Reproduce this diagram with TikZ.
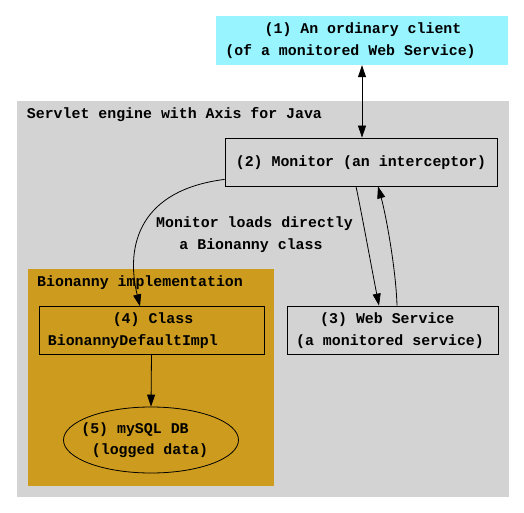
\documentclass[tikz,border=0pt]{standalone}
\usepackage{fontspec}
\setmainfont{Liberation Mono}
\usetikzlibrary{arrows.meta,shapes.geometric}
\definecolor{cadetblueone}{HTML}{98F5FF}
\definecolor{lgray}{HTML}{D3D3D3}
\definecolor{goldthree}{HTML}{CD9B1D}
\tikzset{
  box/.style={draw=black, line width=0.8pt, rectangle, inner sep=0pt},
  txt/.style={inner sep=0pt, anchor=base, font=\fontsize{14.9}{18}\selectfont\bfseries},
  txtl/.style={txt, anchor=base west},
  tip/.style={},
  conn/.style={draw=black, line width=0.8pt, -{Triangle[length=12pt,width=8pt]}},
  conn2/.style={conn, {Triangle[length=12pt,width=8pt]}-{Triangle[length=12pt,width=8pt]}}
}
\begin{document}
\begin{tikzpicture}[x=1pt,y=-1pt]
\useasboundingbox (0,0) rectangle (524,513);
% clusters
\node[fill=lgray, inner sep=0pt, minimum width=492pt, minimum height=396pt] (servlet) at (263,299) {};
\node[fill=goldthree, inner sep=0pt, minimum width=246pt, minimum height=217pt] (bionanny) at (151,377.5) {};
% nodes
\node[fill=cadetblueone, inner sep=0pt, minimum width=292pt, minimum height=49pt] (client) at (362,40.5) {};
\node[box, minimum width=272pt, minimum height=48pt] (monitor) at (361,162) {};
\node[box, minimum width=211pt, minimum height=48pt] (ws) at (392.5,330) {};
\node[box, minimum width=225pt, minimum height=47.5pt] (class) at (151.5,330.5) {};
\node[draw=black, line width=0.8pt, ellipse, inner sep=0pt, minimum width=175pt, minimum height=66pt] (db) at (151,440) {};
% texts
\node[txt] (t1a) at (363,33.8) {(1) An ordinary client};
\node[txt] (t1b) at (350.5,55.2) {(of a monitored Web Service)};
\node[txtl] (tsv) at (26.7,118.5) {Servlet engine with Axis for Java};
\node[txt] (t2) at (361,166.5) {(2) Monitor (an interceptor)};
\node[txt] (tea) at (254.5,227.5) {Monitor loads directly};
\node[txt] (teb) at (251,249.5) {a Bionanny class};
\node[txtl] (tbi) at (37,286.5) {Bionanny implementation};
\node[txt] (t4a) at (153,323.5) {(4) Class};
\node[txtl] (t4b) at (47.7,345.5) {BionannyDefaultImpl};
\node[txt] (t5a) at (135,433.5) {(5) mySQL DB};
\node[txt] (t5b) at (150,454.5) {(logged data)};
\node[txt] (t3a) at (387.3,323.8) {(3) Web Service};
\node[txt] (t3b) at (390,345.8) {(a monitored service)};
% connectors
\draw[conn2] (client.south) -- (client.south |- monitor.north);
\draw[conn] ([yshift=7pt]monitor.south west) .. controls (140,190) and (125,245) .. ([xshift=-11.5pt]class.north);
\draw[conn] ([xshift=-5pt]monitor.south) .. controls (362,215) and (372,270) .. ([xshift=-13.5pt]ws.north);
\draw[conn] ([xshift=4.5pt]ws.north) .. controls (396,270) and (386,215) .. ([xshift=17pt]monitor.south);
\draw[conn] (class.south) -- (db.north);
\end{tikzpicture}
\end{document}
